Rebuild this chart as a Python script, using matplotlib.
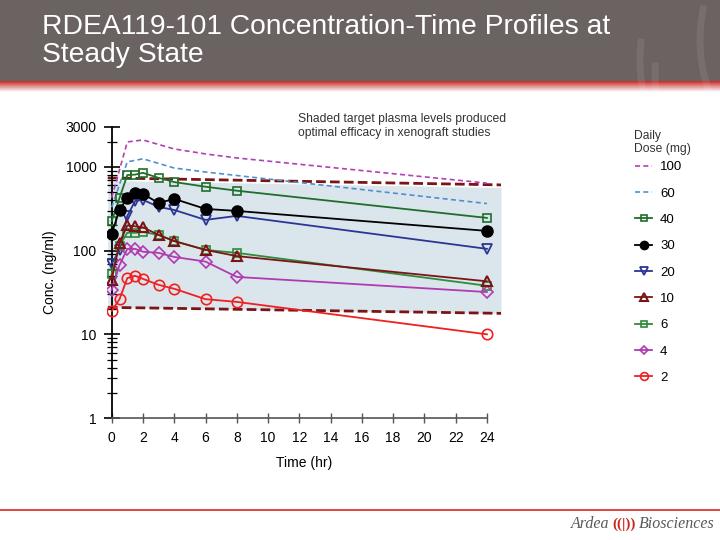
import numpy as np
import matplotlib
matplotlib.use("Agg")
import matplotlib.pyplot as plt
from matplotlib.patches import Rectangle, Arc
from matplotlib.ticker import LogLocator, NullFormatter

plt.rcParams['font.family'] = ['Liberation Sans', 'DejaVu Sans']

# ------------------ Data ------------------
hours = [0, 0.5, 1, 1.5, 2, 3, 4, 6, 8, 24]
hours_sim = [0, 1, 2, 4, 6, 8, 24]

dose_100 = [430, 1990, 2100, 1640, 1430, 1280, 640]
dose_60 = [330, 1150, 1250, 970, 870, 790, 365]
dose_40 = [225, 425, 800, 810, 850, 740, 660, 580, 520, 246]
dose_30 = [160, 306, 430, 485, 476, 371, 415, 315, 298, 172]
dose_20 = [70, 101, 260, 393, 404, 333, 306, 233, 260, 105]
dose_10 = [45, 123, 200, 195, 190, 154, 130, 102, 86, 43]
dose_6 = [53, 115, 164, 163, 167, 154, 130, 102, 94, 38]
dose_4 = [34, 67, 105, 105, 97, 94, 84, 74, 48.5, 32]
dose_2 = [19, 26.3, 47, 50, 46, 39, 35, 26.3, 24.4, 10]

# target window (shaded band), start / end of line
band_t = [-0.25, 24.9]
band_hi = [740, 610]
band_lo = [21, 17.8]

xticks = list(range(0, 26, 2))
yticks = [1, 10, 100, 1000, 3000]

# ------------------ Figure ------------------
fig = plt.figure(figsize=(7.2, 5.4), dpi=100)

# slide background: banner, red stripe, footer
bg = fig.add_axes([0, 0, 1, 1], zorder=0)
bg.set_xlim(0, 720)
bg.set_ylim(540, 0)
bg.axis('off')
bg.add_patch(Rectangle((0, 0), 720, 81, color='#6b6361', lw=0))
grad = np.linspace(0, 1, 50).reshape(-1, 1)
red = np.array([0.78, 0.16, 0.15])
white = np.array([1.0, 1.0, 1.0])
img = red[None, None, :] * (1 - grad[:, :, None]) + white[None, None, :] * grad[:, :, None]
bg.imshow(img, extent=(0, 720, 92, 81), aspect='auto', zorder=1)
for cx, cy, w, h, a1, a2 in [(700, 60, 120, 200, 100, 200), (690, 75, 70, 150, 100, 200),
                             (745, 40, 90, 170, 110, 220), (660, 90, 170, 230, 105, 175)]:
    bg.add_patch(Arc((cx, cy), w, h, theta1=a1, theta2=a2, color='white', alpha=0.08, lw=5))
bg.plot([0, 720], [510, 510], color='#d9281f', lw=1.2)
bg.text(42, 14, "RDEA119-101 Concentration-Time Profiles at\nSteady State", color='white',
        fontsize=20.3, va='top', ha='left', linespacing=1.08)
bg.text(609, 524, "Ardea", family='Liberation Serif', style='italic', fontsize=11.5,
        color='#5a5a5a', ha='right', va='center')
bg.text(624, 524, "((|))", family='Liberation Serif', fontsize=11, color='#c8281e',
        ha='center', va='center', fontweight='bold')
bg.text(639, 524, "Biosciences", family='Liberation Serif', style='italic', fontsize=11.5,
        color='#5a5a5a', ha='left', va='center')

ax = fig.add_axes([107 / 720, 1 - 418 / 540, (501 - 107) / 720, (418 - 127) / 540], zorder=2)
ax.patch.set_alpha(0)
ax.set_yscale('log')
ax.set_xlim(-0.3, 24.9)
ax.set_ylim(1, 3000)

# shaded target band
ax.fill_between(band_t, [v * 0.93 for v in band_hi], band_lo, color='#dbe5ec', lw=0, zorder=1)
ax.plot(band_t, band_hi, color='#7b1416', lw=2, ls=(0, (3.5, 1.5)), zorder=2)
ax.plot(band_t, band_lo, color='#7b1416', lw=2, ls=(0, (3.5, 1.5)), zorder=2)

lines = []
lines += ax.plot(hours_sim, dose_100, color='#b43fb4', lw=1.2, ls=(0, (3, 2)), label='100', zorder=3)
lines += ax.plot(hours_sim, dose_60, color='#4f8fd0', lw=1.2, ls=(0, (3, 2)), label='60', zorder=3)
lines += ax.plot(hours, dose_40, color='#1f6e2a', lw=1.3, marker='s', ms=6, mfc='none',
                 mew=1.2, label='40', zorder=4)
lines += ax.plot(hours, dose_30, color='black', lw=1.3, marker='o', ms=8, label='30', zorder=5)
lines += ax.plot(hours, dose_20, color='#2b3595', lw=1.3, marker='v', ms=7, mfc='none',
                 mew=1.3, label='20', zorder=4)
lines += ax.plot(hours, dose_10, color='#7b1416', lw=1.3, marker='^', ms=7, mfc='none',
                 mew=1.5, label='10', zorder=5)
lines += ax.plot(hours, dose_6, color='#2e8b3a', lw=1.3, marker='s', ms=6, mfc='none',
                 mew=1.2, label='6', zorder=4)
lines += ax.plot(hours, dose_4, color='#b03ab0', lw=1.3, marker='D', ms=6, mfc='none',
                 mew=1.2, label='4', zorder=4)
lines += ax.plot(hours, dose_2, color='#f02020', lw=1.3, marker='o', ms=7.5, mfc='none',
                 mew=1.2, label='2', zorder=4)

# axes styling
for s in ['top', 'right']:
    ax.spines[s].set_visible(False)
ax.spines['left'].set_position(('data', 0))
ax.spines['left'].set_color('black')
ax.spines['left'].set_linewidth(1.3)
ax.spines['bottom'].set_bounds(0, 24)
ax.spines['bottom'].set_color('#555555')
ax.spines['bottom'].set_linewidth(1.2)

ax.set_xticks(xticks)
ax.set_xticklabels([str(x) for x in xticks])
ax.set_yticks(yticks)
ax.set_yticklabels([str(y) for y in yticks])
ax.yaxis.set_minor_locator(LogLocator(base=10, subs=np.arange(2, 10)))
ax.yaxis.set_minor_formatter(NullFormatter())
ax.tick_params(axis='y', which='major', direction='inout', length=12, width=1.2,
               labelsize=10, pad=5, colors='black')
ax.tick_params(axis='y', which='minor', direction='inout', length=7, width=0.9)
ax.tick_params(axis='x', direction='inout', length=7, width=1.0, color='#555555',
               labelsize=10, pad=6)

ax.set_xlabel("Time (hr)", fontsize=10, labelpad=8)
ax.set_ylabel("Conc. (ng/ml)", fontsize=10)
ax.yaxis.set_label_coords((57 - 107) / 394, 0.5)

fig.text(298 / 720, 1 - 113 / 540, "Shaded target plasma levels produced\noptimal efficacy in xenograft studies",
         fontsize=8.7, color='#333333', va='top', ha='left', linespacing=1.25)

fig.text(634 / 720, 1 - 130 / 540, "Daily\nDose (mg)", fontsize=8.7, color='#333333',
         va='top', ha='left', linespacing=1.15)
leg = fig.legend(handles=lines, labels=[l.get_label() for l in lines], loc='upper left',
                 bbox_to_anchor=(635 / 720, 1 - 161 / 540), frameon=False, fontsize=9.5,
                 borderpad=0, borderaxespad=0, handlelength=1.3, handletextpad=0.6,
                 labelspacing=1.07, markerscale=0.75)

fig.savefig("out.png", dpi=100)
